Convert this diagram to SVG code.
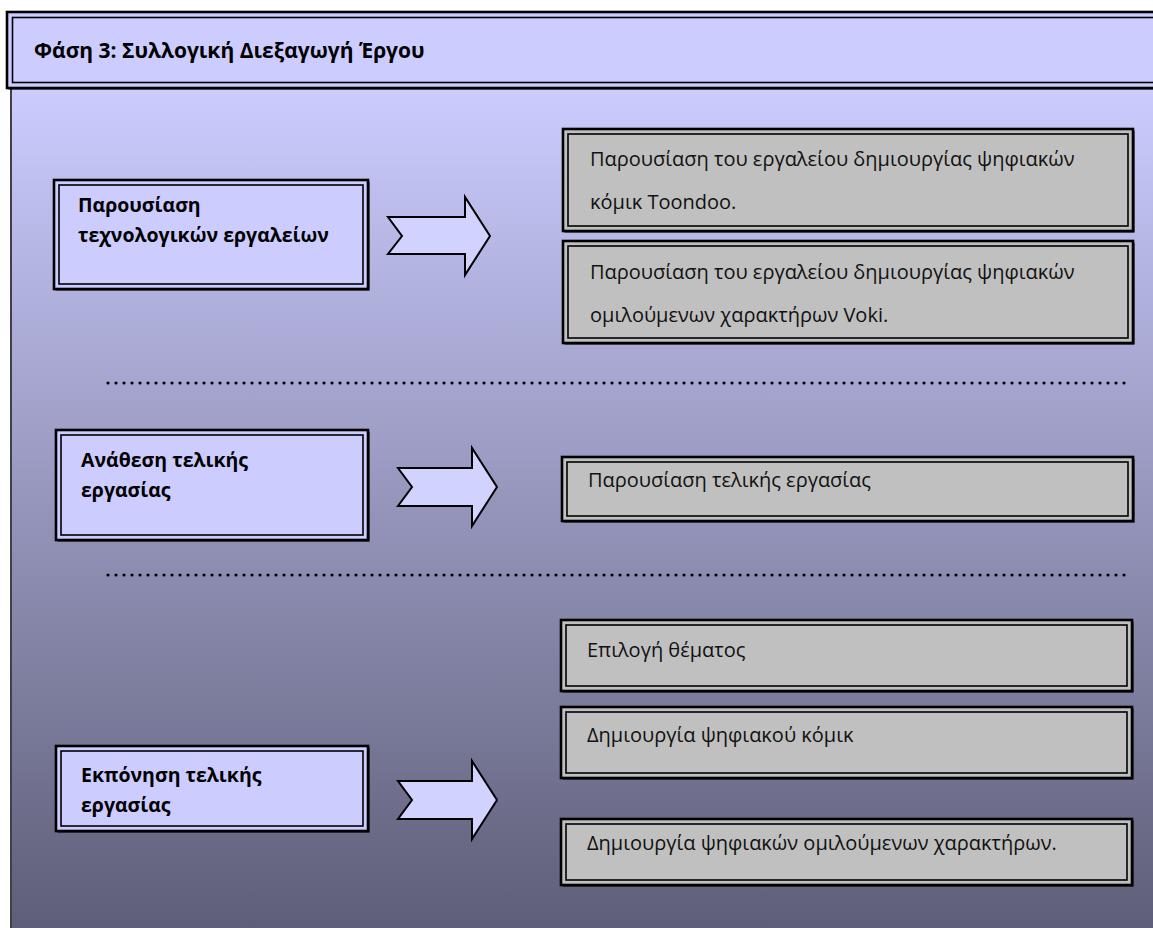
<svg xmlns="http://www.w3.org/2000/svg" width="1153" height="928" viewBox="0 0 1153 928">
  <defs>
    <linearGradient id="panelFill" gradientUnits="userSpaceOnUse" x1="0" y1="86" x2="0" y2="928">
      <stop offset="0" stop-color="#CCCCFF"/>
      <stop offset="1" stop-color="#5E5E78"/>
    </linearGradient>
    <style>
      .shadow { fill: #000; }
      .outer { stroke: #000; stroke-width: 2.6; }
      .inner { fill: none; stroke: #000; stroke-width: 1.6; }
      .lav { fill: #CCCCFF; }
      .grey { fill: #C0C0C0; }
      .bold { font-family: "Open Sans", "DejaVu Sans", sans-serif; font-weight: bold; font-size: 19.5px; fill: #000; }
      .title { font-family: "Open Sans", "DejaVu Sans", sans-serif; font-weight: bold; font-size: 21px; fill: #000; }
      .plain { font-family: "Open Sans", "DejaVu Sans", sans-serif; font-size: 20px; fill: #111; }
      .arrow { fill: #D2D2FF; stroke: #000; stroke-width: 2; stroke-linejoin: miter; }
      .dots { stroke: #000; stroke-width: 3.2; stroke-linecap: round; stroke-dasharray: 0 8; fill: none; }
    </style>
  </defs>

  <rect width="1153" height="928" fill="#FFFFFF"/>

  <!-- gradient panel -->
  <rect x="11" y="86" width="1150" height="850" fill="url(#panelFill)"/>
  <line x1="11" y1="86" x2="11" y2="928" stroke="#404048" stroke-width="2"/>

  <!-- header bar -->
  <g id="header">
    <rect x="8.5" y="13.5" width="1160" height="76" class="shadow"/>
    <rect x="7" y="12" width="1160" height="76" class="outer lav"/>
    <rect x="12.5" y="17.5" width="1150" height="65" class="inner"/>
    <text x="34" y="58" class="title">Φάση 3: Συλλογική Διεξαγωγή Έργου</text>
  </g>

  <!-- left column: activities -->
  <g id="node-tools">
    <rect x="55.5" y="181.5" width="314" height="109" class="shadow"/>
    <rect x="54" y="180" width="314" height="109" class="outer lav"/>
    <rect x="59" y="185" width="304" height="99" class="inner"/>
    <text x="78" y="212" class="bold">Παρουσίαση</text>
    <text x="78" y="242" class="bold">τεχνολογικών εργαλείων</text>
  </g>
  <g id="node-assign">
    <rect x="57.5" y="431.5" width="312" height="110" class="shadow"/>
    <rect x="56" y="430" width="312" height="110" class="outer lav"/>
    <rect x="61" y="435" width="302" height="100" class="inner"/>
    <text x="81" y="467" class="bold">Ανάθεση τελικής</text>
    <text x="81" y="497" class="bold">εργασίας</text>
  </g>
  <g id="node-make">
    <rect x="57.5" y="747.5" width="312" height="85" class="shadow"/>
    <rect x="56" y="746" width="312" height="85" class="outer lav"/>
    <rect x="61" y="751" width="302" height="75" class="inner"/>
    <text x="81" y="782" class="bold">Εκπόνηση τελικής</text>
    <text x="81" y="812" class="bold">εργασίας</text>
  </g>

  <!-- block arrows -->
  <g id="connectors">
    <polygon class="arrow" points="388,217 465,217 465,197 490,236 465,275 465,254 388,254 402,236"/>
    <polygon class="arrow" points="398,468 472,468 472,448 497,487 472,526 472,506 398,506 412,487"/>
    <polygon class="arrow" points="398,781 472,781 472,761 497,800 472,839 472,819 398,819 412,800"/>
  </g>

  <!-- section separators -->
  <line x1="108" y1="383" x2="1126" y2="383" class="dots"/>
  <line x1="108" y1="575" x2="1126" y2="575" class="dots"/>

  <!-- right column: steps -->
  <g id="step-toondoo">
    <rect x="564.5" y="130.5" width="570" height="102" class="shadow"/>
    <rect x="563" y="129" width="570" height="102" class="outer grey"/>
    <rect x="568" y="134" width="560" height="92" class="inner"/>
    <text x="590" y="166" class="plain">Παρουσίαση του εργαλείου δημιουργίας ψηφιακών</text>
    <text x="590" y="209" class="plain">κόμικ Toondoo.</text>
  </g>
  <g id="step-voki">
    <rect x="564.5" y="242.5" width="570" height="102" class="shadow"/>
    <rect x="563" y="241" width="570" height="102" class="outer grey"/>
    <rect x="568" y="246" width="560" height="92" class="inner"/>
    <text x="590" y="279" class="plain">Παρουσίαση του εργαλείου δημιουργίας ψηφιακών</text>
    <text x="590" y="322" class="plain">ομιλούμενων χαρακτήρων Voki.</text>
  </g>
  <g id="step-present">
    <rect x="563.5" y="458.5" width="571" height="64" class="shadow"/>
    <rect x="562" y="457" width="571" height="64" class="outer grey"/>
    <rect x="567" y="462" width="561" height="54" class="inner"/>
    <text x="588" y="487" class="plain">Παρουσίαση τελικής εργασίας</text>
  </g>
  <g id="step-topic">
    <rect x="562.5" y="621.5" width="571" height="71" class="shadow"/>
    <rect x="561" y="620" width="571" height="71" class="outer grey"/>
    <rect x="566" y="625" width="561" height="61" class="inner"/>
    <text x="587" y="657" class="plain">Επιλογή θέματος</text>
  </g>
  <g id="step-comic">
    <rect x="562.5" y="708.5" width="571" height="71" class="shadow"/>
    <rect x="561" y="707" width="571" height="71" class="outer grey"/>
    <rect x="566" y="712" width="561" height="61" class="inner"/>
    <text x="587" y="742" class="plain">Δημιουργία ψηφιακού κόμικ</text>
  </g>
  <g id="step-characters">
    <rect x="562.5" y="820.5" width="571" height="66" class="shadow"/>
    <rect x="561" y="819" width="571" height="66" class="outer grey"/>
    <rect x="566" y="824" width="561" height="56" class="inner"/>
    <text x="587" y="850" class="plain">Δημιουργία ψηφιακών ομιλούμενων χαρακτήρων.</text>
  </g>
</svg>
